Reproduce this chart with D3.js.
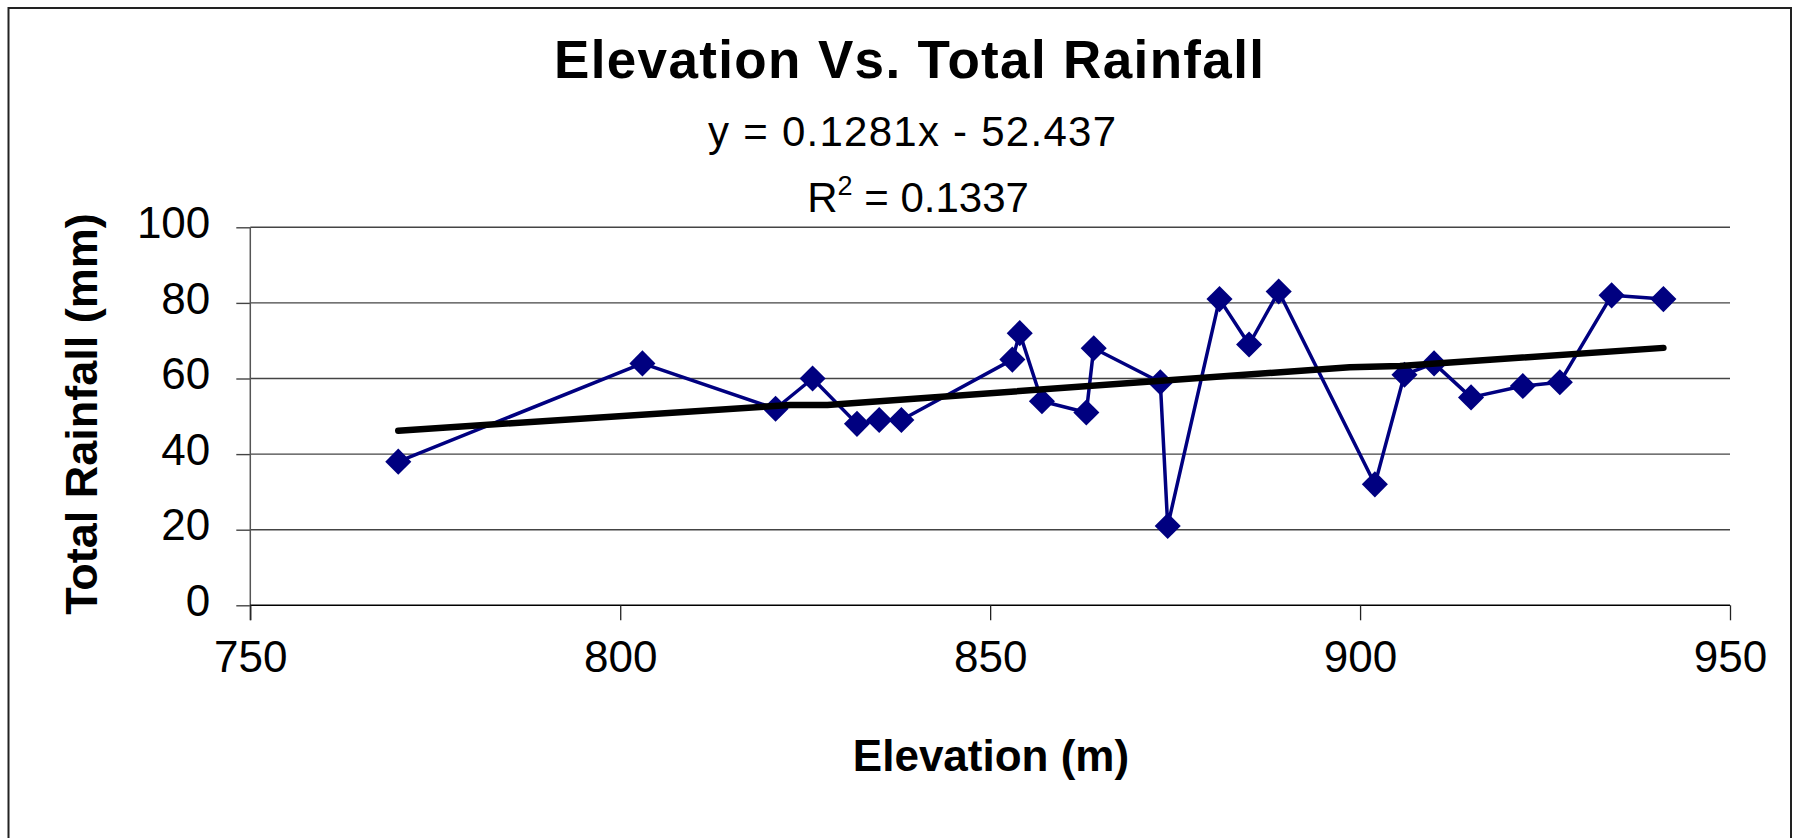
<!DOCTYPE html>
<html>
<head>
<meta charset="utf-8">
<script src="https://cdn.jsdelivr.net/npm/d3@7"></script>
<style>
  html, body { margin: 0; padding: 0; background: #fff; }
  svg { display: block; }
  text { font-family: "Liberation Sans", Arial, sans-serif; fill: #000; }
</style>
</head>
<body>
<script>
// ---- data ----
const elevation = [770, 803, 821, 826, 832, 835, 838, 853, 854, 857, 863, 864, 873, 874, 881, 885, 889, 902, 906, 910, 915, 922, 927, 934, 941];
const rainfall  = [38, 64, 52, 60, 48, 49, 49, 65, 72, 54, 51, 68, 59, 21, 81, 69, 83, 32, 61, 64, 55, 58, 59, 82, 81];
const trendX = [770, 823, 828, 898.6, 905.4, 941];
const trendY = [46.2, 53.0, 53.0, 63.0, 63.3, 68.1];
const xTicks = [750, 800, 850, 900, 950];
const yTicks = [0, 20, 40, 60, 80, 100];
const titleText = "Elevation Vs. Total Rainfall";
const equationText = "y = 0.1281x - 52.437";
const r2Label = "R";
const r2Value = " = 0.1337";
const xTitle = "Elevation (m)";
const yTitle = "Total Rainfall (mm)";

const W = 1799, H = 838;
const svg = d3.select("body").append("svg").attr("width", W).attr("height", H);

// outer chart border
svg.append("rect").attr("x", 8.5).attr("y", 8).attr("width", 1782.5).attr("height", 850)
  .attr("fill", "#fff").attr("stroke", "#222").attr("stroke-width", 2);

const x = d3.scaleLinear().domain([750, 950]).range([250.3, 1730]);
const y = d3.scaleLinear().domain([0, 100]).range([605.3, 227.3]);

// gridlines
svg.append("g").selectAll("line").data(yTicks.filter(d => d > 0)).join("line")
  .attr("x1", x(750)).attr("x2", x(950)).attr("y1", d => y(d)).attr("y2", d => y(d))
  .attr("stroke", "#444").attr("stroke-width", 1.4);

// y axis
const yAxis = d3.axisLeft(y).tickValues(yTicks).tickSize(14).tickPadding(26).tickFormat(d3.format("d"));
const gy = svg.append("g").attr("transform", `translate(${x(750)},0)`).call(yAxis);
gy.select(".domain").remove();
gy.selectAll(".tick line").attr("stroke", "#444").attr("stroke-width", 1.4);
gy.selectAll(".tick text").attr("font-size", 44).attr("font-family", "Liberation Sans, Arial, sans-serif")
  .attr("dy", "0.23em").attr("fill", "#000");
svg.append("line").attr("x1", x(750)).attr("x2", x(750)).attr("y1", y(100)).attr("y2", y(0) + 15)
  .attr("stroke", "#555").attr("stroke-width", 1.5);

// x axis
const xAxis = d3.axisBottom(x).tickValues(xTicks).tickSize(15).tickPadding(20).tickFormat(d3.format("d"));
const gx = svg.append("g").attr("transform", `translate(0,${y(0)})`).call(xAxis);
gx.select(".domain").attr("stroke", "#000").attr("stroke-width", 1.6).attr("d", `M${x(750)},0H${x(950)}`);
gx.selectAll(".tick line").attr("stroke", "#222").attr("stroke-width", 1.3);
gx.selectAll(".tick text").attr("font-size", 44).attr("font-family", "Liberation Sans, Arial, sans-serif")
  .attr("dy", "0.71em").attr("fill", "#000");

// data series line
const pts = elevation.map((e, i) => [e, rainfall[i]]);
svg.append("path").datum(pts)
  .attr("d", d3.line().x(d => x(d[0])).y(d => y(d[1])))
  .attr("fill", "none").attr("stroke", "#000080").attr("stroke-width", 3.5).attr("stroke-linejoin", "round");

// markers (diamonds)
const diamond = d3.symbol(d3.symbolSquare, 340);
svg.append("g").selectAll("path").data(pts).join("path")
  .attr("d", diamond)
  .attr("transform", d => `translate(${x(d[0])},${y(d[1])}) rotate(45)`)
  .attr("fill", "#000080");

// trendline
const tpts = trendX.map((t, i) => [t, trendY[i]]);
svg.append("path").datum(tpts)
  .attr("d", d3.line().x(d => x(d[0])).y(d => y(d[1])))
  .attr("fill", "none").attr("stroke", "#000").attr("stroke-width", 6.5)
  .attr("stroke-linecap", "round").attr("stroke-linejoin", "round");

// titles
svg.append("text").attr("x", 909).attr("y", 78).attr("text-anchor", "middle")
  .attr("font-size", 53).attr("font-weight", "bold")
  .attr("textLength", 710).attr("lengthAdjust", "spacing").text(titleText);

svg.append("text").attr("x", 912).attr("y", 146).attr("text-anchor", "middle")
  .attr("font-size", 42).attr("textLength", 408).attr("lengthAdjust", "spacing").text(equationText);

const r2 = svg.append("text").attr("x", 918).attr("y", 211.5).attr("text-anchor", "middle").attr("font-size", 42);
r2.append("tspan").text(r2Label);
r2.append("tspan").attr("font-size", 27).attr("dy", -17).text("2");
r2.append("tspan").attr("dy", 17).text(r2Value);

svg.append("text").attr("x", 991).attr("y", 771).attr("text-anchor", "middle")
  .attr("font-size", 44).attr("font-weight", "bold").text(xTitle);

svg.append("text").attr("transform", `translate(97,414) rotate(-90)`).attr("text-anchor", "middle")
  .attr("font-size", 45).attr("font-weight", "bold").text(yTitle);
</script>
</body>
</html>
